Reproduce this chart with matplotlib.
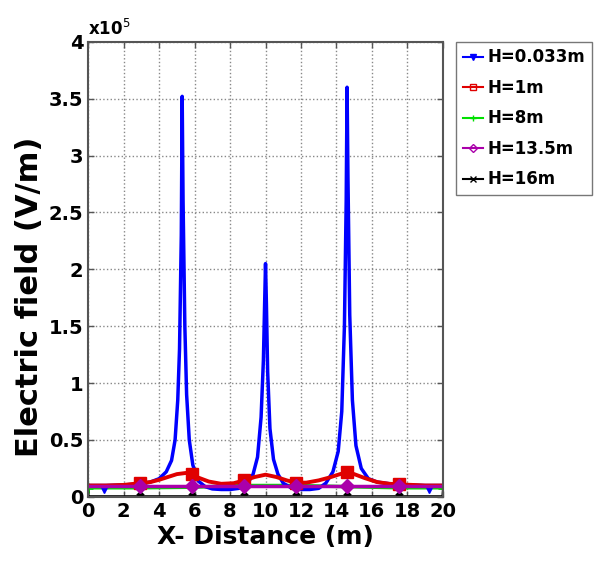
import matplotlib
matplotlib.use("Agg")
import matplotlib.pyplot as plt
from matplotlib.lines import Line2D

# values in units of 1e5 V/m
x_blue = [0, 1, 2, 3, 3.5, 4, 4.4, 4.7, 4.9, 5.05, 5.15, 5.25, 5.3, 5.35, 5.45, 5.55,
          5.7, 5.9, 6.2, 6.6, 7.0, 7.5, 8.0, 8.5, 9.0, 9.3, 9.55, 9.75, 9.88, 9.95,
          10.0, 10.05, 10.12, 10.25, 10.45, 10.7, 11.0, 11.5, 12, 12.5, 13, 13.4,
          13.8, 14.1, 14.3, 14.45, 14.55, 14.6, 14.65, 14.75, 14.9, 15.1, 15.4,
          15.8, 16.3, 17, 18, 19, 20]
y_blue = [0.10, 0.10, 0.105, 0.115, 0.13, 0.16, 0.22, 0.32, 0.5, 0.85, 1.3, 2.3, 3.52,
          2.6, 1.5, 0.9, 0.5, 0.28, 0.14, 0.09, 0.07, 0.065, 0.065, 0.075, 0.12,
          0.2, 0.35, 0.7, 1.2, 1.7, 2.05, 1.7, 1.1, 0.6, 0.33, 0.2, 0.12, 0.075,
          0.065, 0.065, 0.075, 0.12, 0.22, 0.4, 0.75, 1.5, 2.6, 3.6, 2.8, 1.6,
          0.85, 0.45, 0.25, 0.16, 0.13, 0.115, 0.105, 0.1, 0.1]
x_blue_mk = [0.9, 19.2]
y_blue_mk = [0.06, 0.06]

x_red = [0, 1, 2, 2.9, 3.5, 4, 4.5, 5, 5.5, 5.85, 6.2, 6.8, 7.5, 8.2, 8.8, 9.4, 10,
         10.6, 11.2, 11.7, 12.3, 13, 13.6, 14.2, 14.6, 15, 15.6, 16.3, 17, 17.5,
         18.3, 19, 20]
y_red = [0.1, 0.1, 0.105, 0.12, 0.13, 0.15, 0.175, 0.2, 0.21, 0.2, 0.17, 0.135,
         0.115, 0.12, 0.145, 0.175, 0.195, 0.175, 0.145, 0.125, 0.125, 0.145, 0.17,
         0.2, 0.215, 0.2, 0.165, 0.13, 0.115, 0.11, 0.105, 0.1, 0.1]
red_marks = [3, 9, 14, 19, 24, 29]

x_mk = [0, 2.9, 5.85, 8.8, 11.7, 14.6, 17.5, 20]
y_green = [0.08, 0.08, 0.085, 0.1, 0.1, 0.09, 0.08, 0.08]
y_mag = [0.1, 0.1, 0.1, 0.1, 0.1, 0.1, 0.1, 0.1]

x_black = [0, 0.05, 2.9, 5.85, 8.8, 11.7, 14.6, 17.5, 19.95, 20]
y_black = [0.1, 0.01, 0.01, 0.01, 0.01, 0.01, 0.01, 0.01, 0.01, 0.1]

labels = ["H=0.033m", "H=1m", "H=8m", "H=13.5m", "H=16m"]
colors = ["#0000ff", "#e00000", "#00e000", "#aa00aa", "#000000"]
markers = ["v", "s", "+", "D", "x"]

fig = plt.figure(figsize=(5.96, 5.64), dpi=100)
ax = fig.add_axes([0.148, 0.119, 0.595, 0.807])

ax.plot(x_mk, y_green, color=colors[2], lw=2.5, marker="+", ms=7, mew=2)
ax.plot(x_black, y_black, color=colors[4], lw=0.8, marker="x", ms=5, mew=2.5,
        markevery=[2, 3, 4, 5, 6, 7])
ax.plot(x_blue, y_blue, color=colors[0], lw=2.5)
ax.plot(x_blue_mk, y_blue_mk, ls="none", color=colors[0], marker="v", ms=4)
ax.plot(x_red, y_red, color=colors[1], lw=2.8, marker="s", ms=8, markevery=red_marks)
ax.plot(x_mk, y_mag, color=colors[3], lw=2.5, marker="D", ms=7, markevery=[1, 2, 3, 4, 5, 6])

ax.set_xlim(0, 20)
ax.set_ylim(0, 4)
ax.set_xticks(range(0, 21, 2))
ax.set_yticks([0, 0.5, 1, 1.5, 2, 2.5, 3, 3.5, 4])
ax.set_yticklabels(["0", "0.5", "1", "1.5", "2", "2.5", "3", "3.5", "4"])
ax.grid(True, ls=":", color="#888888", lw=1)
ax.tick_params(direction="in", labelsize=14, length=4, width=1, top=True, right=True,
               color="#555555")
for lab in ax.get_xticklabels() + ax.get_yticklabels():
    lab.set_fontweight("bold")
for s in ax.spines.values():
    s.set_color("#555555")
    s.set_linewidth(1.5)

ax.set_xlabel("X- Distance (m)", fontsize=18, fontweight="bold", labelpad=3)
ax.set_ylabel("Electric field (V/m)", fontsize=22, fontweight="bold")
ax.yaxis.set_label_coords(-0.125, 0.44)
ax.text(0, 1.005, r"x10$^5$", transform=ax.transAxes, fontsize=12, fontweight="bold",
        ha="left", va="bottom")

handles = [Line2D([], [], color=c, marker=m, lw=1.5, ms=4, mfc="none" if m in "sD" else c)
           for c, m in zip(colors, markers)]
fig.legend(handles, labels, loc="upper left", bbox_to_anchor=(0.765, 0.926),
           prop={"weight": "bold", "size": 12}, frameon=True, fancybox=False,
           edgecolor="#555555", handlelength=1.2, handletextpad=0.3, borderpad=0.4,
           labelspacing=0.75, borderaxespad=0)

fig.savefig("out.png", dpi=100)
